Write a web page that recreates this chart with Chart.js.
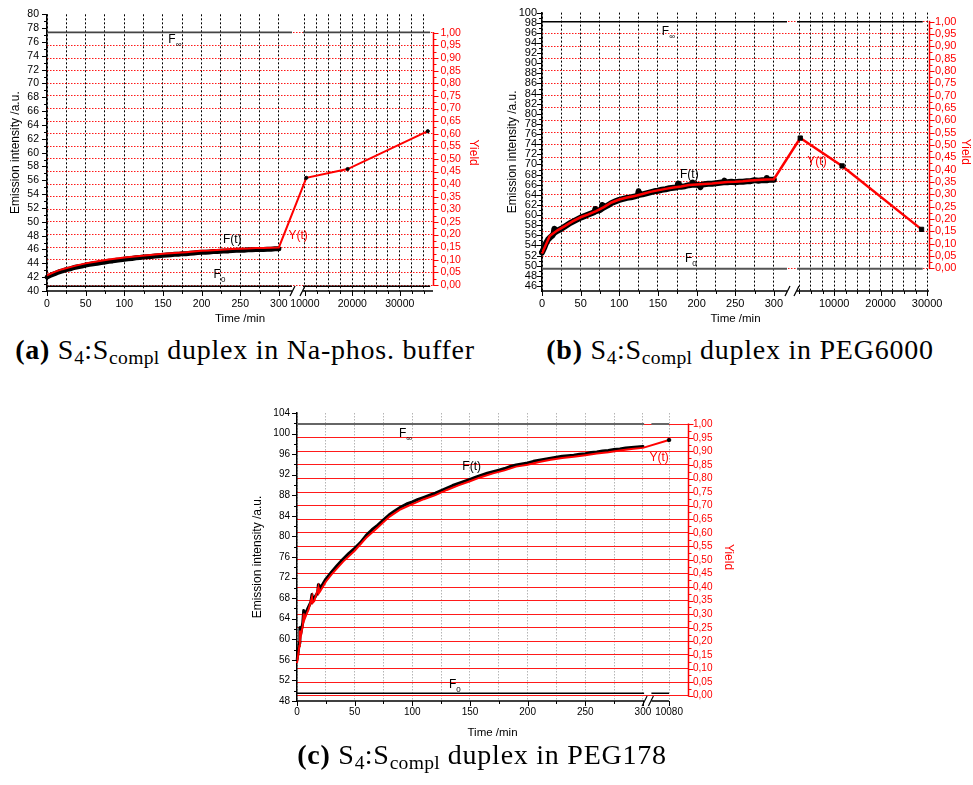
<!DOCTYPE html>
<html><head><meta charset="utf-8">
<script src="https://cdn.jsdelivr.net/npm/chart.js@4.4.1/dist/chart.umd.min.js"></script>
<style>
body{margin:0;background:#fff;}
#page{position:relative;width:973px;height:785px;overflow:hidden;background:#fff}
canvas{position:absolute}
.cap{position:absolute;font-family:"Liberation Serif","DejaVu Serif",serif;font-size:28px;letter-spacing:0.75px;line-height:30px;color:#000;white-space:nowrap;text-align:center}
.cap b{font-weight:bold}
.cap sub{font-size:70%;vertical-align:-0.25em;line-height:0;letter-spacing:0.3px}
</style></head>
<body><div id="page">
<canvas id="cA" width="490" height="330" style="left:0;top:0"></canvas>
<canvas id="cB" width="483" height="330" style="left:490px;top:0"></canvas>
<canvas id="cC" width="520" height="345" style="left:240px;top:400px"></canvas>
<div class="cap" style="left:0;top:335px;width:490px"><b>(a)</b> S<sub>4</sub>:S<sub>compl</sub> duplex in Na-phos. buffer</div>
<div class="cap" style="left:490px;top:335px;width:500px"><b>(b)</b> S<sub>4</sub>:S<sub>compl</sub> duplex in PEG6000</div>
<div class="cap" style="left:232px;top:740px;width:500px"><b>(c)</b> S<sub>4</sub>:S<sub>compl</sub> duplex in PEG178</div>
</div>
<script>
// ================= DATA =================
// ---- (a) Na-phos. buffer ----
const timeA = [0,5,10,15,20,25,30,35,40,45,50,55,60,65,70,75,80,85,90,95,100,105,110,115,120,125,130,135,140,145,150,155,160,165,170,175,180,185,190,195,200,205,210,215,220,225,230,235,240,245,250,255,260,265,270,275,280,285,290,295,300];
const emissionA = [42.0,42.3,42.5,42.75,42.9,43.1,43.2,43.4,43.5,43.6,
  43.75,43.85,43.95,44.0,44.1,44.2,44.3,44.35,44.45,44.5,
  44.6,44.65,44.7,44.8,44.85,44.9,44.95,45.0,45.05,45.1,
  45.15,45.2,45.25,45.3,45.3,45.4,45.4,45.45,45.5,45.55,
  45.6,45.6,45.65,45.7,45.7,45.75,45.8,45.8,45.85,45.9,
  45.9,45.9,45.95,45.95,46.0,46.0,46.0,46.05,46.05,46.1,46.1];
const yieldTimeA = [0,10,20,30,40,50,60,70,80,90,100,110,120,130,140,150,160,170,180,190,200,210,220,230,240,250,260,270,280,290,300];
const yieldA = [0.038,0.052,0.063,0.071,0.079,0.086,0.091,0.096,0.101,0.105,0.109,0.112,0.115,0.118,0.121,0.124,0.126,0.128,0.130,0.133,0.136,0.137,0.139,0.141,0.143,0.144,0.145,0.147,0.147,0.148,0.149];
const longTimeA = [10300,19000,35900];
const longYieldA = [0.425,0.46,0.61];
const fInfA = 77.4, fZeroA = 40.7;
const xTicksA = [0,25,50,75,100,125,150,175,200,225,250,275,300,10000,12500,15000,17500,20000,22500,25000,27500,30000,32500,35000];
const xLabelsA = [0,50,100,150,200,250,300,10000,20000,30000];

// ---- (b) PEG6000 ----
const timeB = [0,3,5,8,10,13,15,16,17,20,25,30,35,40,45,50,55,60,65,68,69,70,75,77,78,79,85,90,95,100,105,110,115,120,124,125,126,130,135,140,145,150,155,160,165,170,175,176,177,180,185,190,194,195,196,200,204,205,206,210,215,220,225,230,235,236,237,240,245,250,255,260,265,270,275,280,285,290,291,292,295,300];
const emissionB = [52.6,53.6,54.4,55.2,55.5,55.9,56.3,57.3,56.6,56.9,57.3,57.8,58.3,58.7,59.1,59.5,59.8,60.1,60.4,60.6,61.2,60.8,61.0,61.2,62.0,61.4,61.9,62.4,62.7,63.0,63.2,63.4,63.5,63.7,63.9,64.7,64.0,64.1,64.3,64.5,64.7,64.8,65.0,65.1,65.3,65.4,65.5,66.2,65.6,65.6,65.7,65.9,66.0,66.4,66.0,66.0,65.9,65.5,65.9,66.1,66.2,66.2,66.3,66.4,66.5,66.8,66.5,66.5,66.6,66.5,66.6,66.6,66.7,66.7,66.9,66.8,66.9,66.9,67.3,66.9,67.0,67.0];
const yieldTimeB = [0,10,20,30,40,50,60,70,80,90,100,110,120,130,140,150,160,170,180,190,200,210,220,230,240,250,260,270,280,290,300];
const yieldB = [0.060,0.131,0.154,0.172,0.191,0.207,0.219,0.232,0.248,0.267,0.279,0.287,0.293,0.301,0.310,0.316,0.322,0.328,0.332,0.338,0.340,0.342,0.344,0.347,0.350,0.351,0.353,0.356,0.358,0.360,0.361];
const longTimeB = [2700,11700,28800];
const longYieldB = [0.528,0.415,0.158];
const fInfB = 98.17, fZeroB = 49.4;
const xTicksB = [0,25,50,75,100,125,150,175,200,225,250,275,300,2500,5000,7500,10000,12500,15000,17500,20000,22500,25000,27500,30000];
const xLabelsB = [0,50,100,150,200,250,300,10000,20000,30000];

// ---- (c) PEG178 ----
const timeC = [0,1,2,2.5,3,4,5,5.8,6.3,8,10,12,13,13.5,15,18,18.5,19,20,25,30,35,40,45,50,55,60,65,70,75,80,85,90,95,100,105,110,115,120,125,130,135,140,145,150,155,160,165,170,175,180,185,190,195,200,205,210,215,220,225,230,235,240,245,250,255,260,265,270,275,280,285,290,295,300];
const emissionC = [56.0,57.5,59.3,62.3,60.8,62.0,63.2,65.6,64.3,65.3,66.3,67.2,68.7,67.6,68.0,69.1,70.6,69.5,69.8,71.7,73.1,74.4,75.6,76.7,77.7,78.8,80.2,81.3,82.2,83.2,84.2,85.0,85.7,86.3,86.7,87.2,87.6,88.0,88.4,88.9,89.4,89.9,90.3,90.7,91.1,91.5,91.9,92.3,92.6,92.9,93.2,93.6,93.9,94.1,94.3,94.6,94.8,95.0,95.2,95.4,95.6,95.7,95.8,96.0,96.1,96.3,96.4,96.6,96.7,96.9,97.0,97.2,97.3,97.4,97.5];
const yieldTimeC = [0,1,2,2.5,3,4,5,5.8,6.3,8,10,13,13.5,15,18.5,19,20,25,30,40,50,60,70,80,90,100,110,120,130,140,150,160,170,180,190,200,210,220,230,240,250,260,270,280,290,300];
const yieldC = [0.120,0.149,0.183,0.240,0.212,0.235,0.258,0.303,0.279,0.298,0.317,0.363,0.342,0.349,0.399,0.378,0.384,0.420,0.447,0.494,0.534,0.582,0.620,0.659,0.687,0.706,0.724,0.739,0.758,0.775,0.790,0.806,0.819,0.830,0.844,0.851,0.861,0.869,0.876,0.880,0.886,0.892,0.897,0.903,0.909,0.913];
const longTimeC = [10080];
const longYieldC = [0.942];
const fInfC = 101.87, fZeroC = 49.5;
const xTicksC = [0,25,50,75,100,125,150,175,200,225,250,275,300,10080];
const xLabelsC = [0,50,100,150,200,250,300,10080];

// ================= HELPERS =================
const RED = '#ff0000';
const FONT = '"Liberation Sans", Arial, sans-serif';
Chart.defaults.font.family = FONT;
Chart.defaults.color = '#000';
function range(a, b, s) { const r = []; for (let v = a; v <= b + 1e-9; v += s) r.push(Math.round(v * 1000) / 1000); return r; }
function pts(xs, ys) { return xs.map((x, i) => ({ x: x, y: ys[i] })); }
const isMajorYield = v => Math.abs(v * 20 - Math.round(v * 20)) < 1e-6;
const fmtYield = v => v.toFixed(2).replace('.', ',');
const yieldTicks = range(0, 1, 0.025);

// Broken (two-segment) linear axis
class BrokenLinearScale extends Chart.LinearScale {
  static id = 'brokenLinear';
  determineDataLimits() {
    const o = this.options.brk;
    this._brk = { leftMin: o.leftMin, leftMax: o.leftMax, rightMin: o.rightMin, rightMax: o.rightMax,
                  leftFrac: o.leftFrac, gapFrac: o.gapFrac, axisEnd: o.axisEnd, ticks: Array.from(o.ticks) };
    this.min = o.leftMin; this.max = o.rightMax;
  }
  buildTicks() { return this._brk.ticks.map(v => ({ value: v })); }
  getPixelForValue(v) {
    const b = this._brk, L = this.left, W = this.width;
    const lw = W * b.leftFrac, gw = W * b.gapFrac, rw = W - lw - gw;
    if (v <= b.leftMax) return L + (v - b.leftMin) / (b.leftMax - b.leftMin) * lw;
    if (v >= b.rightMin) return L + lw + gw + (v - b.rightMin) / (b.rightMax - b.rightMin) * rw;
    return L + lw + (v - b.leftMax) / (b.rightMin - b.leftMax) * gw;
  }
  getValueForPixel(p) {
    const b = this._brk, L = this.left, W = this.width;
    const lw = W * b.leftFrac, gw = W * b.gapFrac, rw = W - lw - gw;
    if (p <= L + lw) return b.leftMin + (p - L) / lw * (b.leftMax - b.leftMin);
    if (p >= L + lw + gw) return b.rightMin + (p - L - lw - gw) / rw * (b.rightMax - b.rightMin);
    return b.leftMax + (p - L - lw) / gw * (b.rightMin - b.leftMax);
  }
}
Chart.register(BrokenLinearScale);

// Decorations: broken x baseline, tick marks, red yield axis, text labels
const deco = {
  id: 'deco',
  afterDraw(chart, args, opts) {
    const ctx = chart.ctx, ca = chart.chartArea;
    const xs = chart.scales.x, yl = chart.scales.y, yr = chart.scales.y2;
    const b = xs._brk;
    const line = (x1, y1, x2, y2) => { ctx.beginPath(); ctx.moveTo(x1, y1); ctx.lineTo(x2, y2); ctx.stroke(); };
    ctx.save();
    ctx.setLineDash([]);
    const yb = ca.bottom;
    ctx.strokeStyle = '#000'; ctx.lineWidth = 1.5;
    const pL0 = xs.getPixelForValue(b.leftMin), pL1 = xs.getPixelForValue(b.leftMax);
    const pR0 = xs.getPixelForValue(b.rightMin), pR1 = xs.getPixelForValue(b.axisEnd);
    line(pL0 - 0.75, yb, pL1, yb); line(pR0, yb, pR1, yb);
    ctx.lineWidth = 1.2;
    line(pL1 - 2, yb + 5, pL1 + 3, yb - 5);
    line(pR0 - 3, yb + 5, pR0 + 2, yb - 5);
    ctx.lineWidth = 1;
    xs.ticks.forEach(t => { const px = Math.round(xs.getPixelForValue(t.value)) + 0.5; line(px, yb, px, yb + (t.label ? opts.majorLen : opts.minorLen)); });
    yl.ticks.forEach(t => { const py = Math.round(yl.getPixelForValue(t.value)) + 0.5; line(ca.left - (t.label ? opts.majorLen : opts.minorLen), py, ca.left, py); });
    // red yield axis
    ctx.strokeStyle = RED; ctx.lineWidth = 1.5;
    const xr = ca.right + 0.5;
    line(xr, yr.getPixelForValue(0) + 0.75, xr, yr.getPixelForValue(1) - 0.75);
    ctx.lineWidth = 1;
    yr.ticks.forEach(t => { const py = Math.round(yr.getPixelForValue(t.value)) + 0.5; line(xr, py, xr + (t.label ? opts.majorLen : opts.minorLen), py); });
    // text labels
    (opts.notes || []).forEach(n => {
      const ys = chart.scales[n.axis];
      const px = xs.getPixelForValue(n.x) + (n.dx || 0), py = ys.getPixelForValue(n.y);
      ctx.fillStyle = n.color || '#000';
      ctx.textAlign = 'left'; ctx.textBaseline = 'middle';
      ctx.font = '12px ' + FONT;
      ctx.fillText(n.text, px, py);
      if (n.sub) {
        const w = ctx.measureText(n.text).width;
        ctx.font = (n.subSize || 8) + 'px ' + FONT;
        ctx.fillText(n.sub, px + w, py + 5);
      }
    });
    ctx.restore();
  }
};

function makeChart(id, P) {
  const b = P.brk;
  const gapMid = (b.leftMax + b.rightMin) / 2;
  const hline = f => [{x: b.leftMin, y: f}, {x: b.leftMax, y: f}, {x: gapMid, y: null}, {x: b.rightMin, y: f}, {x: P.fEnd, y: f}];
  return new Chart(document.getElementById(id), {
    type: 'line',
    data: { datasets: [
      { data: pts(P.longT, P.longY), yAxisID: 'y2', showLine: false, pointStyle: P.ptStyle, pointRadius: P.ptR,
        pointBackgroundColor: '#000', pointBorderColor: '#000', pointBorderWidth: 1, order: 0 },
      { data: pts(P.yT.concat(P.longT), P.yV.concat(P.longY)), yAxisID: 'y2', borderColor: RED, borderWidth: P.redW,
        pointRadius: 0, order: 1 },
      { data: pts(P.fT, P.fV), yAxisID: 'y', borderColor: '#000', borderWidth: P.blackW, pointRadius: 0, order: 2,
        borderJoinStyle: 'round', borderCapStyle: 'round' },
      { data: hline(P.fInf), yAxisID: 'y', borderColor: P.infColor, borderWidth: P.infW, pointRadius: 0, spanGaps: false, order: 3 },
      { data: hline(P.fZero), yAxisID: 'y', borderColor: P.zeroColor, borderWidth: P.zeroW, pointRadius: 0, spanGaps: false, order: 3 }
    ]},
    options: {
      responsive: false, animation: false, events: [],
      layout: { padding: { top: P.padTop, left: 0, right: 0, bottom: 0 } },
      plugins: { legend: { display: false }, tooltip: { enabled: false },
        deco: { notes: P.notes, majorLen: 5, minorLen: 3 } },
      scales: {
        x: { type: 'brokenLinear', position: 'bottom', brk: b,
          grid: { color: P.vGrid, lineWidth: 1, drawTicks: false },
          border: { display: false, dash: P.vDash },
          ticks: { autoSkip: false, maxRotation: 0, minRotation: 0, padding: P.xPad, color: '#000',
            font: { size: P.tickSize }, callback: v => P.xLabels.includes(v) ? String(v) : '' },
          title: { display: true, text: 'Time /min', color: '#000', font: { size: 11.5 }, padding: { top: 0, bottom: P.xTitlePad } },
          afterFit: s => { s.height = P.xH; } },
        y: { type: 'linear', position: 'left', min: P.yMin, max: P.yMax,
          afterBuildTicks: s => { s.ticks = P.yTicks.map(v => ({ value: v })); },
          grid: { display: false, drawTicks: false },
          border: { display: true, color: '#000', width: 1.5 },
          ticks: { autoSkip: false, padding: P.yPad, color: '#000', font: { size: P.tickSize },
            callback: v => (Math.abs(v % P.yLabelStep) < 1e-9) ? String(v) : '' },
          title: { display: true, text: 'Emission intensity /a.u.', color: '#000', font: { size: 12 }, padding: { top: P.yTitlePad, bottom: 0 } },
          afterFit: s => { s.width = P.yW; } },
        y2: { type: 'linear', position: 'right', min: P.y2Min, max: P.y2Max,
          afterBuildTicks: s => { s.ticks = yieldTicks.map(v => ({ value: v })); },
          grid: { drawOnChartArea: true, drawTicks: false, lineWidth: 1,
            color: c => (c.tick && isMajorYield(c.tick.value)) ? P.hGrid : 'rgba(0,0,0,0)' },
          border: { display: false, dash: P.hDash },
          ticks: { autoSkip: false, padding: P.y2Pad, color: RED, font: { size: P.tickSize },
            callback: v => isMajorYield(v) ? fmtYield(v) : '' },
          title: { display: true, text: 'Yield', color: RED, font: { size: 12 }, padding: { top: P.y2TitlePad, bottom: 0 } },
          afterFit: s => { s.width = P.y2W; } }
      }
    },
    plugins: [deco]
  });
}

// ---- chart (a)
makeChart('cA', {
  brk: { leftMin: 0, leftMax: 317, rightMin: 9600, rightMax: 37000, leftFrac: 245 / 386, gapFrac: 11 / 386, axisEnd: 37000, ticks: xTicksA },
  fEnd: 36400, xLabels: xLabelsA,
  fT: timeA, fV: emissionA, yT: yieldTimeA, yV: yieldA, longT: longTimeA, longY: longYieldA,
  fInf: fInfA, fZero: fZeroA,
  yMin: 40, yMax: 80, yTicks: range(40, 80, 1), yLabelStep: 2,
  y2Min: -0.0236, y2Max: 1.0735,
  padTop: 12, yW: 47, y2W: 57, xH: 39,
  xPad: 6.5, yPad: 8, y2Pad: 7.5, tickSize: 10.5, xTitlePad: 4, yTitlePad: 8.6, y2TitlePad: 9.8,
  vGrid: '#000', vDash: [2, 2], hGrid: 'rgba(255,0,0,0.9)', hDash: [1.5, 1.5],
  blackW: 5, redW: 2, ptStyle: 'circle', ptR: 1.6,
  infColor: '#444', infW: 1.8, zeroColor: '#000', zeroW: 1.5,
  notes: [
    { x: 157, y: 76.3, axis: 'y', text: 'F', sub: '\u221E' },
    { x: 227.6, y: 47.4, axis: 'y', text: 'F(t)' },
    { x: 215.5, y: 42.3, axis: 'y', text: 'F', sub: '0' },
    { x: 312.4, y: 0.197, axis: 'y2', text: 'Y(t)', color: RED }
  ]
});

// ---- chart (b)
makeChart('cB', {
  brk: { leftMin: 0, leftMax: 317, rightMin: 2000, rightMax: 30400, leftFrac: 245 / 387, gapFrac: 10 / 387, axisEnd: 30400, ticks: xTicksB },
  fEnd: 29050, xLabels: xLabelsB,
  fT: timeB, fV: emissionB, yT: yieldTimeB, yV: yieldB, longT: longTimeB, longY: longYieldB,
  fInf: fInfB, fZero: fZeroB,
  yMin: 45, yMax: 100, yTicks: range(46, 100, 1), yLabelStep: 2,
  y2Min: -0.0918, y2Max: 1.0364,
  padTop: 12, yW: 52, y2W: 44, xH: 39,
  xPad: 6.5, yPad: 5, y2Pad: 6, tickSize: 11, xTitlePad: 4, yTitlePad: 15, y2TitlePad: 0,
  vGrid: '#000', vDash: [2, 2], hGrid: 'rgba(255,0,0,0.9)', hDash: [1.5, 1.5],
  blackW: 6, redW: 2.5, ptStyle: 'rect', ptR: 3,
  infColor: '#000', infW: 1.5, zeroColor: '#555', zeroW: 1.8,
  notes: [
    { x: 155, y: 96.2, axis: 'y', text: 'F', sub: '\u221E' },
    { x: 178.6, y: 67.9, axis: 'y', text: 'F(t)' },
    { x: 185, y: 51.3, axis: 'y', text: 'F', sub: '0' },
    { x: 4216, y: 0.431, axis: 'y2', text: 'Y(t)', color: RED }
  ]
});

// ---- chart (c)
makeChart('cC', {
  brk: { leftMin: 0, leftMax: 301, rightMin: 10000, rightMax: 10166, leftFrac: 347.1 / 391, gapFrac: 7.3 / 391, axisEnd: 10080, ticks: xTicksC },
  fEnd: 10080, xLabels: xLabelsC,
  fT: timeC, fV: emissionC, yT: yieldTimeC, yV: yieldC, longT: longTimeC, longY: longYieldC,
  fInf: fInfC, fZero: fZeroC,
  yMin: 48, yMax: 104, yTicks: range(48, 104, 2), yLabelStep: 4,
  y2Min: -0.0195, y2Max: 1.0415,
  padTop: 12, yW: 57, y2W: 72, xH: 44,
  xPad: 5, yPad: 7, y2Pad: 5, tickSize: 10, xTitlePad: 5, yTitlePad: 10.3, y2TitlePad: 24.8,
  vGrid: '#b5b5b5', vDash: [1.5, 1.5], hGrid: '#ff1a1a', hDash: [],
  blackW: 3, redW: 2, ptStyle: 'circle', ptR: 1.8,
  infColor: '#666', infW: 2, zeroColor: '#000', zeroW: 1.5,
  notes: [
    { x: 88.4, y: 99.9, axis: 'y', text: 'F', sub: '\u221E' },
    { x: 143.4, y: 93.6, axis: 'y', text: 'F(t)' },
    { x: 131.8, y: 51.1, axis: 'y', text: 'F', sub: '0' },
    { x: 10000, y: 0.878, axis: 'y2', text: 'Y(t)', color: RED, dx: -2 }
  ]
});
</script>
</body></html>
